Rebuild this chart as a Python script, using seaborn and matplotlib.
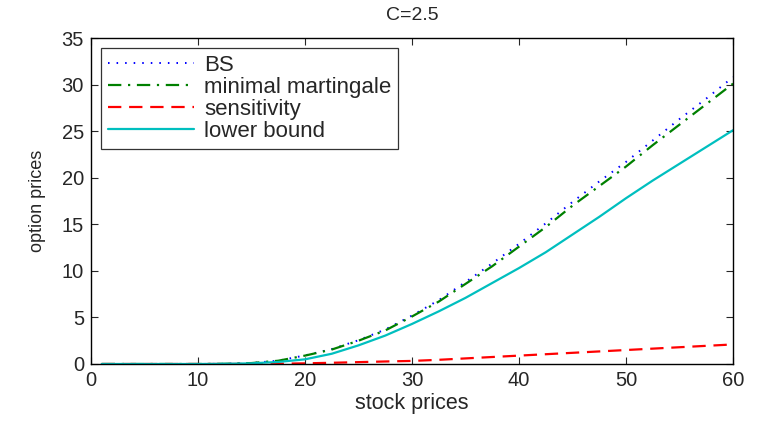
import pandas as pd
import matplotlib
matplotlib.use("Agg")
import matplotlib.pyplot as plt
import seaborn as sns

# stock prices (x) and the four option price curves
stock = [1, 5, 10, 12.5, 15, 17.5, 20, 22.5, 25, 27.5, 30, 32.5, 35, 37.5, 40,
         42.5, 45, 47.5, 50, 52.5, 55, 57.5, 60]
bs = [0.0, 0.0, 0.0, 0.02, 0.1, 0.36, 0.92, 1.6, 2.55, 3.7, 5.2, 6.85, 8.8, 10.8, 12.9,
      15.1, 17.4, 19.6, 21.7, 24.0, 26.3, 28.5, 30.8]
minimal_martingale = [0.0, 0.0, 0.0, 0.02, 0.1, 0.35, 0.9, 1.55, 2.5, 3.6, 5.1, 6.7, 8.6, 10.5, 12.6,
                      14.7, 17.0, 19.1, 21.2, 23.5, 25.7, 27.9, 30.1]
sensitivity = [0.0, 0.0, 0.0, 0.0, 0.01, 0.03, 0.07, 0.13, 0.2, 0.27, 0.33, 0.45, 0.6, 0.75, 0.9,
               1.05, 1.2, 1.35, 1.5, 1.65, 1.8, 1.95, 2.1]
lower_bound = [0.0, 0.0, 0.0, 0.02, 0.07, 0.22, 0.5, 1.1, 2.0, 3.05, 4.3, 5.65, 7.1, 8.7, 10.3,
               12.0, 13.9, 15.8, 17.8, 19.7, 21.5, 23.3, 25.1]

sns.set_style("ticks")
plt.rcParams['font.family'] = ['Liberation Sans', 'DejaVu Sans']

fig = plt.figure(figsize=(7.67, 4.21), dpi=100)
ax = fig.add_axes([0.1186, 0.1354, 0.8371, 0.7743])

sns.lineplot(x=stock, y=bs, ax=ax, color='#0000ff', linewidth=1.4, label='BS')
sns.lineplot(x=stock, y=minimal_martingale, ax=ax, color='#008000', linewidth=1.6,
             label='minimal martingale')
sns.lineplot(x=stock, y=sensitivity, ax=ax, color='#ff0000', linewidth=1.6, label='sensitivity')
sns.lineplot(x=stock, y=lower_bound, ax=ax, color='#00bfbf', linewidth=1.6, label='lower bound')

# matlab-ish dash patterns (in units of linewidth)
ax.lines[0].set_dashes((0.8, 3.6))
ax.lines[1].set_dashes((6, 3, 1, 3))
ax.lines[2].set_dashes((6, 3.5))

ax.set_xlim(0, 60)
ax.set_ylim(0, 35)
ax.set_xticks(range(0, 61, 10))
ax.set_yticks(range(0, 36, 5))
ax.tick_params(direction='in', top=True, right=True, labelsize=14.5, length=5, width=0.8, pad=5)
for s in ax.spines.values():
    s.set_visible(True)
    s.set_linewidth(1.0)
    s.set_color('black')

ax.set_xlabel('stock prices', fontsize=15.5, labelpad=2)
ax.set_ylabel('option prices', fontsize=13, labelpad=11)
ax.set_title('C=2.5', fontsize=14, pad=13)

leg = ax.legend(loc='upper left', fontsize=16, frameon=True, fancybox=False,
                handlelength=3.9, borderpad=0.3, labelspacing=0.05, handletextpad=0.45,
                borderaxespad=0.45)
leg.get_frame().set_edgecolor('black')
leg.get_frame().set_linewidth(0.9)

fig.savefig("out.png", dpi=100)
